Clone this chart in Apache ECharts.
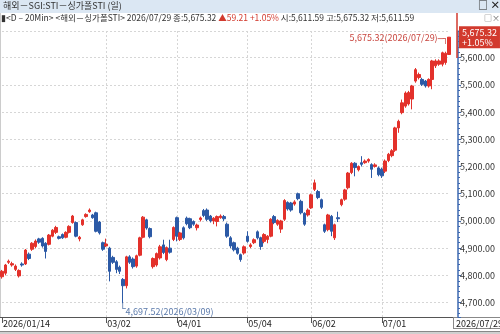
<!DOCTYPE html>
<html>
<head>
<meta charset="utf-8">
<script src="https://cdn.jsdelivr.net/npm/echarts@6/dist/echarts.min.js"></script>
<style>
html,body{margin:0;padding:0;background:#fff;}
#container{width:500px;height:334px;}
</style>
</head>
<body>
<div id="container"></div>
<script>
var dates = [
 "2026/01/14","2026/01/15","2026/01/16","2026/01/19","2026/01/20","2026/01/21","2026/01/22","2026/01/23","2026/01/26","2026/01/27","2026/01/28","2026/01/29","2026/01/30",
 "2026/02/02","2026/02/03","2026/02/04","2026/02/05","2026/02/06","2026/02/09","2026/02/10","2026/02/11","2026/02/12","2026/02/13","2026/02/16","2026/02/19","2026/02/20","2026/02/23","2026/02/24","2026/02/25","2026/02/26","2026/02/27",
 "2026/03/02","2026/03/03","2026/03/04","2026/03/05","2026/03/06","2026/03/09","2026/03/10","2026/03/11","2026/03/12","2026/03/13","2026/03/16","2026/03/17","2026/03/18","2026/03/19","2026/03/23","2026/03/24","2026/03/25","2026/03/26","2026/03/27","2026/03/30","2026/03/31",
 "2026/04/01","2026/04/02","2026/04/06","2026/04/07","2026/04/08","2026/04/09","2026/04/10","2026/04/13","2026/04/14","2026/04/15","2026/04/16","2026/04/17","2026/04/20","2026/04/21","2026/04/22","2026/04/23","2026/04/24","2026/04/27","2026/04/28","2026/04/29","2026/04/30",
 "2026/05/04","2026/05/05","2026/05/06","2026/05/07","2026/05/08","2026/05/11","2026/05/12","2026/05/13","2026/05/14","2026/05/15","2026/05/18","2026/05/19","2026/05/20","2026/05/21","2026/05/22","2026/05/25","2026/05/26","2026/05/28","2026/05/29",
 "2026/06/02","2026/06/03","2026/06/04","2026/06/05","2026/06/08","2026/06/09","2026/06/10","2026/06/11","2026/06/12","2026/06/15","2026/06/16","2026/06/17","2026/06/18","2026/06/19","2026/06/22","2026/06/23","2026/06/24","2026/06/25","2026/06/26","2026/06/29","2026/06/30",
 "2026/07/01","2026/07/02","2026/07/03","2026/07/06","2026/07/07","2026/07/08","2026/07/09","2026/07/10","2026/07/13","2026/07/14","2026/07/15","2026/07/16","2026/07/17","2026/07/20","2026/07/21","2026/07/22","2026/07/23","2026/07/24","2026/07/27","2026/07/28","2026/07/29"
];

var opens = [
 4795,4808,4848,4838,4822,4798,4842,4842,4878,4896,4906,4934,4936,4918,4914,4944,4958,4942,4950,4940,
 4958,4994,4994,4934,4986,5016,5034,5022,5030,4996,4920,4908,4900,4866,4850,4830,4785,4762,4868,4860,
 4834,4874,4940,5004,4972,4832,4838,4864,4912,4858,4900,4932,5012,4932,4975,5010,5008,4998,4975,5005,
 5038,5040,5018,5000,4998,5012,5016,4988,4938,4920,4900,4876,4882,4944,4906,4920,4960,4938,4925,4932,
 4944,5016,4988,4970,5006,5068,5066,5062,5100,5072,5028,5022,5048,5116,5108,5078,4986,4968,5017,4938,
 5012,5060,5080,5122,5178,5212,5188,5214,5214,5220,5207,5200,5195,5190,5183,5222,5240,5260,5342,5398,
 5422,5430,5448,5514,5527,5520,5514,5496,5520,5570,5576,5576,5582,5611.59
];
var closes = [
 4815,4838,4852,4843,4834,4818,4838,4893,4862,4918,4926,4922,4908,4888,4948,4966,4976,4936,4938,4958,
 4980,5018,4944,4940,5004,5024,5040,5012,4962,4956,4896,4915,4815,4848,4822,4815,4762,4868,4848,4832,
 4872,4938,5014,4974,4942,4862,4880,4905,4884,4902,4885,4976,4944,4956,4938,4990,4975,4988,4985,5011,
 5020,5006,5000,5010,5016,5018,5008,4944,4908,4894,4881,4858,4905,4925,4912,4931,4938,4906,4950,4944,
 5006,4994,5002,5000,5075,5044,5040,5070,5082,5030,4988,5040,5096,5140,5086,5050,4962,5022,4962,4986,
 5008,5078,5114,5176,5212,5196,5200,5208,5220,5226,5190,5206,5170,5166,5220,5245,5258,5342,5366,5434,
 5470,5472,5496,5556,5538,5502,5496,5520,5588,5588,5588,5618,5616.11,5675.32
];
var lows = [
 4788,4800,4842,4832,4816,4792,4832,4838,4856,4890,4900,4916,4902,4862,4910,4940,4952,4932,4934,4936,
 4954,4990,4940,4925,4982,5012,5030,5008,4958,4950,4890,4904,4778,4842,4808,4805,4697.52,4752,4842,4825,
 4828,4870,4936,4968,4936,4825,4832,4858,4878,4852,4880,4926,4925,4926,4932,4984,4970,4982,4965,4998,
 5014,5000,4994,4988,4980,5008,5000,4938,4900,4888,4876,4850,4876,4920,4900,4915,4932,4894,4918,4918,
 4940,4988,4982,4956,5000,5038,5034,5056,5076,5024,4982,5016,5044,5110,5080,5044,4956,4962,4944,4930,
 4996,5054,5074,5116,5172,5164,5182,5200,5210,5214,5158,5196,5164,5158,5176,5216,5234,5254,5324,5392,
 5416,5424,5410,5508,5520,5496,5490,5490,5484,5562,5570,5568,5574,5611.59
];
var highs = [
 4820,4842,4858,4850,4840,4822,4848,4897,4884,4922,4932,4938,4940,4922,4952,4970,4982,4946,4954,4962,
 4984,5022,4998,4945,5008,5028,5046,5026,5034,5000,4924,4935,4905,4872,4856,4836,4790,4872,4874,4866,
 4876,4942,5018,5008,4976,4866,4884,4912,4931,4906,4931,4980,5016,4960,4980,5016,5012,5002,4990,5016,
 5044,5046,5022,5014,5020,5024,5022,4994,4944,4924,4905,4880,4910,4962,4918,4936,4965,4942,4955,4948,
 5010,5022,5006,5004,5080,5072,5070,5076,5104,5078,5032,5046,5100,5152,5114,5082,4990,5026,5022,4990,
 5034,5082,5118,5180,5216,5216,5204,5238,5226,5230,5212,5212,5200,5196,5226,5250,5264,5346,5372,5446,
 5476,5478,5500,5562,5545,5526,5518,5524,5592,5594,5594,5622,5622,5675.32
];
var tickDates = ["2026/01/14","2026/03/02","2026/04/01","2026/05/04","2026/06/02","2026/07/01"];

var titleText = "해외－SGI:STI－싱가폴STI (일)";
var seriesName = "해외－싱가폴STI";

var UP = '#e3312b', DOWN = '#2c5aa6';

function fmt(v) {
    return v.toLocaleString('en-US', {minimumFractionDigits: 2, maximumFractionDigits: 2});
}

var candles = [];
for (var i = 0; i < dates.length; i++) {
    candles.push([opens[i], closes[i], lows[i], highs[i]]);
}
var last = dates.length - 1;
var change = closes[last] - closes[last - 1];
var pct = change / closes[last - 1] * 100;

var maxIdx = 0, minIdx = 0;
for (var j = 0; j < dates.length; j++) {
    if (highs[j] > highs[maxIdx]) maxIdx = j;
    if (lows[j] < lows[minIdx]) minIdx = j;
}

function isTick(idx) {
    return tickDates.indexOf(dates[idx]) >= 0;
}

var dom = document.getElementById('container');
var myChart = echarts.init(dom, null, {renderer: 'canvas'});
var KR = '"Noto Sans CJK KR", "Noto Sans", sans-serif';
var BOX = '"DejaVu Sans", sans-serif';

var option = {
    animation: false,
    textStyle: {fontFamily: KR},
    grid: {left: 2, right: 51, top: 31, bottom: 17},
    xAxis: {
        type: 'category',
        data: dates,
        boundaryGap: false,
        axisLine: {lineStyle: {color: '#555', width: 1}},
        axisTick: {interval: function (idx) { return isTick(idx); }, length: 6, lineStyle: {color: '#555'}},
        axisLabel: {
            interval: function (idx) { return isTick(idx); },
            align: 'left',
            margin: 2,
            padding: [0, 0, 0, 1],
            fontSize: 9,
            color: '#222',
            fontFamily: KR,
            formatter: function (v, idx) { return idx === 0 ? v : v.slice(5); }
        },
        splitLine: {
            show: true,
            interval: function (idx) { return isTick(idx) && idx > 0; },
            lineStyle: {type: [2, 2], color: '#d6d6d6'}
        }
    },
    yAxis: {
        type: 'value',
        position: 'right',
        offset: 9,
        min: 4647,
        max: 5698,
        splitNumber: 10,
        axisLine: {show: true, lineStyle: {color: '#3d68b0', width: 1.5}},
        axisTick: {show: true, length: 3, lineStyle: {color: '#3d68b0'}},
        minorTick: {show: true, splitNumber: 5, length: 2, lineStyle: {color: '#3d68b0'}},
        axisLabel: {
            showMinLabel: false,
            showMaxLabel: false,
            margin: 2,
            fontSize: 9,
            color: '#333',
            fontFamily: KR,
            formatter: function (v) { return fmt(v); }
        },
        splitLine: {show: true, showMinLine: false, lineStyle: {type: [2, 2], color: '#d6d6d6'}}
    },
    series: [{
        type: 'candlestick',
        name: seriesName,
        data: candles,
        barWidth: 3,
        itemStyle: {color: UP, color0: DOWN, borderColor: UP, borderColor0: DOWN, borderWidth: 1},
        markPoint: {
            symbol: 'rect',
            symbolSize: 1,
            itemStyle: {color: 'rgba(0,0,0,0)'},
            data: [
                {
                    coord: [dates[maxIdx], highs[maxIdx]],
                    label: {
                        show: true, position: 'left', distance: 0,
                        formatter: '{t|' + fmt(highs[maxIdx]) + '(' + dates[maxIdx] + ')}{b|─┐}',
                        rich: {
                            t: {color: '#c8453e', fontSize: 9, fontFamily: KR},
                            b: {color: '#c8453e', fontSize: 9, fontFamily: BOX, padding: [4, 0, 0, 0]}
                        }
                    }
                },
                {
                    coord: [dates[minIdx], lows[minIdx]],
                    label: {
                        show: true, position: [-3, 0], align: 'left', verticalAlign: 'top',
                        formatter: '{b|└}{t|' + fmt(lows[minIdx]) + '(' + dates[minIdx] + ')}',
                        rich: {
                            t: {color: '#5a79aa', fontSize: 9, fontFamily: KR, padding: [4, 0, 0, 0]},
                            b: {color: '#5a79aa', fontSize: 10, fontFamily: BOX}
                        }
                    }
                }
            ]
        },
        markLine: {
            symbol: 'none',
            silent: true,
            lineStyle: {color: 'rgba(0,0,0,0)', width: 0},
            data: [{yAxis: closes[last]}],
            label: {
                show: true, position: 'end', distance: 10,
                formatter: fmt(closes[last]) + '\n+' + pct.toFixed(2) + '%',
                backgroundColor: '#d23a2e', color: '#fff', fontSize: 9, lineHeight: 10,
                padding: [1, 3, 1, 3], align: 'left', fontFamily: KR
            }
        }
    }],
    graphic: [
        {type: 'rect', shape: {x: 0, y: 0, width: 500, height: 13}, style: {fill: '#dbe7f3'}, z: 0},
        {type: 'text', x: 3, y: 1, style: {text: titleText, font: '9px ' + KR, fill: '#333'}},
        {type: 'text', x: 478, y: 0, style: {text: '□ ×', font: 'bold 10px ' + KR, fill: '#222'}},
        {type: 'text', x: 484, y: 14, style: {text: '□×', font: '8px ' + KR, fill: '#666'}},
        {
            type: 'text', x: 1, y: 14,
            style: {
                rich: {
                    n: {font: '8.5px ' + KR, fill: '#333'},
                    r: {font: '8.5px ' + KR, fill: '#d23a2e'}
                },
                text: '{n|▮<D – 20Min> <' + seriesName + '> ' + dates[last] + ' 종:' + fmt(closes[last]) + ' }' +
                      '{r|▲' + change.toFixed(2) + ' +' + pct.toFixed(2) + '%}' +
                      '{n| 시:' + fmt(opens[last]) + ' 고:' + fmt(highs[last]) + ' 저:' + fmt(lows[last]) + '}'
            }
        },
        {type: 'line', shape: {x1: 457, y1: 13, x2: 457, y2: 58}, style: {stroke: '#d23a2e', lineWidth: 1.5}, z: 10},
        {type: 'line', shape: {x1: 0, y1: 317.5, x2: 500, y2: 317.5}, style: {stroke: '#555', lineWidth: 1}},
        {type: 'line', shape: {x1: 0, y1: 331.5, x2: 500, y2: 331.5}, style: {stroke: '#888', lineWidth: 1}},
        {type: 'rect', shape: {x: 0, y: 332, width: 500, height: 2}, style: {fill: '#d0d0d0'}},
        {type: 'line', shape: {x1: 0.5, y1: 13, x2: 0.5, y2: 317}, style: {stroke: '#ccc', lineWidth: 1}},
        {
            type: 'text', x: 454, y: 318,
            style: {
                text: dates[last], font: '9px ' + KR, fill: '#222',
                backgroundColor: '#fff', borderColor: '#888', borderWidth: 1, padding: [1, 2, 0, 2]
            }
        }
    ]
};

myChart.setOption(option);
</script>
</body>
</html>
